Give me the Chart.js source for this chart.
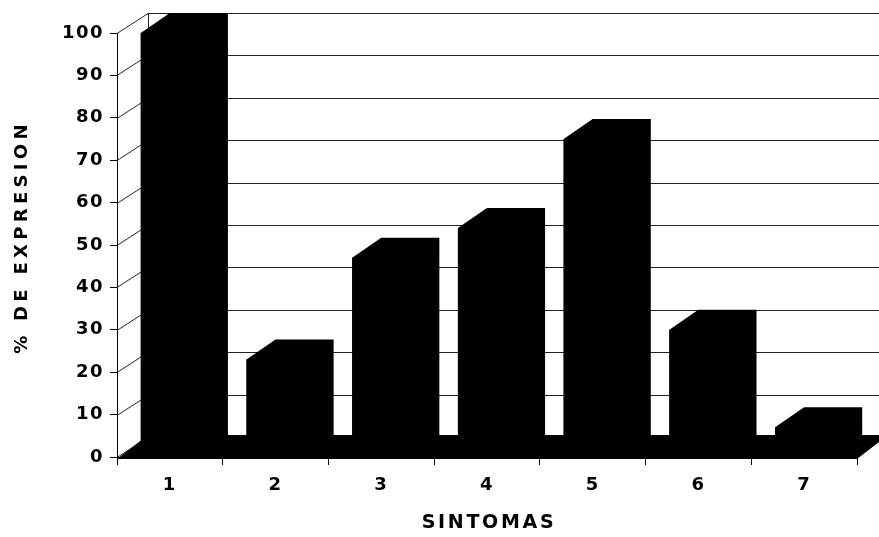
<!DOCTYPE html>
<html lang="es">
<head>
    <meta charset="UTF-8">
    <title>Sintomas</title>
    <script src="https://cdn.jsdelivr.net/npm/chart.js"></script>
    <style>
        body {
        margin: 0;
        padding: 0;
        background-color: #fff;
        }
        .wrap {
        width: 879px;
        height: 537px;
        }
    </style>
</head>
<body>
    <div class="wrap">
        <canvas id="sintomasChart" width="879" height="537"></canvas>
    </div>

    <script>
        // datos
        const sintomas = ['1', '2', '3', '4', '5', '6', '7'];
        const expresion = [100, 23, 47, 54, 75, 30, 7];
        const yTicks = [0, 10, 20, 30, 40, 50, 60, 70, 80, 90, 100];
        const tituloX = 'SINTOMAS';
        const tituloY = '% DE EXPRESION';

        // desplazamiento de profundidad (efecto 3D)
        const DX = 31, DY = -20;
        const BAR_DX = 29;

        const fuente = '"DejaVu Sans", Arial, sans-serif';

        const pseudo3d = {
        id: 'pseudo3d',
        beforeDraw(chart) {
            chart.ctx.letterSpacing = '1.5px';
        },
        beforeDatasetsDraw(chart) {
            const ctx = chart.ctx;
            const a = chart.chartArea;
            const y = chart.scales.y;
            ctx.save();
            ctx.strokeStyle = '#222';
            ctx.lineWidth = 1;
            // lineas de la pared del fondo y pared izquierda
            yTicks.forEach(v => {
            const py = Math.round(y.getPixelForValue(v)) + 0.5;
            ctx.beginPath();
            ctx.moveTo(a.left, py);
            ctx.lineTo(a.left + DX, py + DY);
            ctx.lineTo(a.right + DX + 10, py + DY);
            ctx.stroke();
            });
            ctx.beginPath();
            ctx.moveTo(a.left + DX + 0.5, a.top + DY);
            ctx.lineTo(a.left + DX + 0.5, a.bottom + DY);
            ctx.stroke();
            // piso negro
            ctx.fillStyle = '#000';
            ctx.beginPath();
            ctx.moveTo(a.left, a.bottom + 2);
            ctx.lineTo(a.right, a.bottom + 2);
            ctx.lineTo(a.right + DX, a.bottom + DY - 2);
            ctx.lineTo(a.left + DX, a.bottom + DY - 2);
            ctx.closePath();
            ctx.fill();
            ctx.restore();
        },
        afterDatasetsDraw(chart) {
            const ctx = chart.ctx;
            ctx.save();
            ctx.fillStyle = '#000';
            // silueta completa: frente, tapa y costado
            chart.getDatasetMeta(0).data.forEach(bar => {
            const l = bar.x - bar.width / 2;
            const r = bar.x + bar.width / 2;
            ctx.beginPath();
            ctx.moveTo(l, bar.base);
            ctx.lineTo(l, bar.y);
            ctx.lineTo(l + BAR_DX, bar.y + DY);
            ctx.lineTo(r + BAR_DX, bar.y + DY);
            ctx.lineTo(r + BAR_DX, bar.base + DY);
            ctx.lineTo(r, bar.base);
            ctx.closePath();
            ctx.fill();
            });
            ctx.restore();
        },
        afterDraw(chart) {
            const ctx = chart.ctx;
            const a = chart.chartArea;
            ctx.save();
            ctx.fillStyle = '#000';
            ctx.textAlign = 'center';
            ctx.textBaseline = 'middle';
            ctx.font = 'bold 19px ' + fuente;
            ctx.letterSpacing = '2.7px';
            ctx.fillText(tituloX, (a.left + a.right) / 2 + 2, 523);
            ctx.font = 'bold 18px ' + fuente;
            ctx.translate(22, 237);
            ctx.rotate(-Math.PI / 2);
            ctx.letterSpacing = '4.3px';
            ctx.fillText(tituloY, 0, 0);
            ctx.restore();
        }
        };

        const ctx = document.getElementById('sintomasChart').getContext('2d');
        const chart = new Chart(ctx, {
        type: 'bar',
        data: {
            labels: sintomas,
            datasets: [{
            data: expresion,
            backgroundColor: '#000',
            borderWidth: 0,
            barPercentage: 0.55,
            categoryPercentage: 1
            }]
        },
        options: {
            responsive: false,
            animation: false,
            layout: {
            padding: { left: 0, right: 22, top: 33, bottom: 0 }
            },
            plugins: {
            legend: { display: false },
            tooltip: { enabled: false }
            },
            scales: {
            x: {
                afterFit(scale) { scale.height = 80; },
                grid: {
                drawOnChartArea: false,
                drawTicks: true,
                tickLength: 8,
                color: '#000',
                offset: true
                },
                border: { display: true, color: '#000' },
                ticks: {
                color: '#000',
                padding: 10,
                font: { family: fuente, size: 18, weight: 'bold' }
                }
            },
            y: {
                min: 0,
                max: 100,
                afterFit(scale) { scale.width = 117; },
                afterBuildTicks(scale) {
                scale.ticks = yTicks.map(v => ({ value: v }));
                },
                grid: {
                drawOnChartArea: false,
                drawTicks: true,
                tickLength: 7,
                color: '#000'
                },
                border: { display: true, color: '#000' },
                ticks: {
                color: '#000',
                padding: 6,
                font: { family: fuente, size: 18, weight: 'bold' }
                }
            }
            }
        },
        plugins: [pseudo3d]
        });
    </script>
</body>
</html>
